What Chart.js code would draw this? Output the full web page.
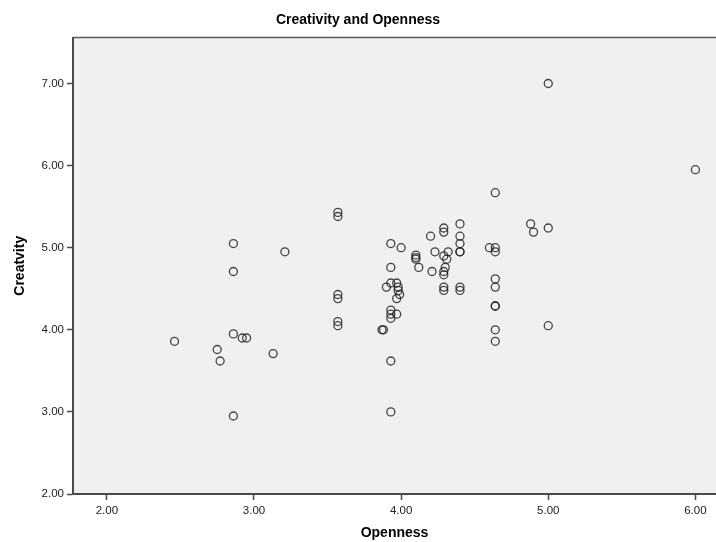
<!DOCTYPE html>
<html>
<head>
    <title>Creativity and Openness</title>
    <script src="https://cdn.jsdelivr.net/npm/chart.js"></script>
    <style>
        body { margin: 0; background: #fff; }
        #chartContainer { width: 716px; height: 542px; }
    </style>
</head>
<body>

<div id="chartContainer">
    <canvas id="myChart"></canvas>
</div>

<script>
// Openness (x) and Creativity (y), one entry per respondent
const openness = [
    2.46, 2.75, 2.77, 2.86, 2.86, 2.86, 2.86, 2.92, 2.95, 3.13,
    3.21, 3.57, 3.57, 3.57, 3.57, 3.57, 3.57, 3.87, 3.88, 3.90,
    3.93, 3.93, 3.93, 3.93, 3.93, 3.93, 3.93, 3.93, 3.97, 3.98,
    3.98, 3.99, 3.97, 3.97, 4.00, 4.10, 4.10, 4.10, 4.12, 4.20,
    4.21, 4.23, 4.29, 4.29, 4.29, 4.31, 4.32, 4.30, 4.29, 4.29,
    4.29, 4.29, 4.40, 4.40, 4.40, 4.40, 4.40, 4.40, 4.40, 4.60,
    4.64, 4.64, 4.64, 4.64, 4.64, 4.64, 4.64, 4.64, 4.64, 4.88,
    4.90, 5.00, 5.00, 5.00, 6.00
];
const creativity = [
    3.86, 3.76, 3.62, 5.05, 4.71, 3.95, 2.95, 3.90, 3.90, 3.71,
    4.95, 5.43, 5.38, 4.43, 4.38, 4.10, 4.05, 4.00, 4.00, 4.52,
    5.05, 4.76, 4.57, 4.24, 4.19, 4.14, 3.62, 3.00, 4.57, 4.52,
    4.48, 4.43, 4.38, 4.19, 5.00, 4.91, 4.88, 4.86, 4.76, 5.14,
    4.71, 4.95, 5.24, 5.19, 4.90, 4.86, 4.95, 4.76, 4.71, 4.67,
    4.52, 4.48, 5.29, 5.14, 5.05, 4.95, 4.95, 4.52, 4.48, 5.00,
    5.67, 5.00, 4.95, 4.62, 4.52, 4.29, 4.29, 4.00, 3.86, 5.29,
    5.19, 5.24, 7.00, 4.05, 5.95
];
const xTicks = [2, 3, 4, 5, 6];
const yTicks = [2, 3, 4, 5, 6, 7];

const points = openness.map((x, i) => ({ x: x, y: creativity[i] }));

const fontFamily = "'Liberation Sans', Arial, sans-serif";
const axisColor = '#4a4a4a';

// grey plot background and the thin frame line on top
const plotBackground = {
    id: 'plotBackground',
    beforeDraw(chart) {
        const a = chart.chartArea;
        const ctx = chart.ctx;
        ctx.save();
        ctx.fillStyle = '#f0f0f0';
        ctx.fillRect(a.left, a.top, a.right - a.left, a.bottom - a.top);
        ctx.strokeStyle = '#5a5a5a';
        ctx.lineWidth = 1.5;
        ctx.beginPath();
        ctx.moveTo(a.left, a.top);
        ctx.lineTo(a.right, a.top);
        ctx.stroke();
        ctx.restore();
    }
};

const config = {
    type: 'scatter',
    data: {
        datasets: [{
            label: 'Creativity',
            data: points,
            pointRadius: 4,
            pointHoverRadius: 4,
            pointBorderWidth: 1.3,
            borderColor: 'rgba(35, 35, 35, 0.85)',
            backgroundColor: 'rgba(0, 0, 0, 0)'
        }]
    },
    options: {
        responsive: true,
        maintainAspectRatio: false,
        animation: false,
        layout: { padding: 0, autoPadding: false },
        plugins: {
            legend: { display: false },
            tooltip: { enabled: false },
            title: {
                display: true,
                text: 'Creativity and Openness',
                color: '#000',
                font: { family: fontFamily, size: 14, weight: 'bold' },
                padding: { top: 12, bottom: 8.7 }
            }
        },
        scales: {
            x: {
                type: 'linear',
                min: 1.77,
                max: 6.14,
                afterBuildTicks: s => { s.ticks = xTicks.map(v => ({ value: v })); },
                afterFit: s => { s.height = 48; },
                grid: {
                    drawOnChartArea: false,
                    drawTicks: true,
                    tickLength: 6,
                    tickColor: axisColor,
                    tickWidth: 1.5
                },
                border: { display: true, color: axisColor, width: 2 },
                ticks: {
                    color: '#222',
                    font: { family: fontFamily, size: 11.5 },
                    padding: 4,
                    maxRotation: 0,
                    autoSkip: false,
                    callback: v => Number(v).toFixed(2)
                },
                title: {
                    display: true,
                    text: 'Openness',
                    color: '#000',
                    font: { family: fontFamily, size: 14, weight: 'bold' },
                    padding: { top: 0, bottom: 0 }
                }
            },
            y: {
                type: 'linear',
                min: 2,
                max: 7.56,
                afterBuildTicks: s => { s.ticks = yTicks.map(v => ({ value: v })); },
                afterFit: s => { s.width = 73; },
                grid: {
                    drawOnChartArea: false,
                    drawTicks: true,
                    tickLength: 6,
                    tickColor: axisColor,
                    tickWidth: 1.5
                },
                border: { display: true, color: axisColor, width: 2 },
                ticks: {
                    color: '#222',
                    font: { family: fontFamily, size: 11.5 },
                    padding: 3,
                    autoSkip: false,
                    callback: v => Number(v).toFixed(2)
                },
                title: {
                    display: true,
                    text: 'Creatvity',
                    color: '#000',
                    font: { family: fontFamily, size: 14, weight: 'bold' },
                    padding: { top: 12, bottom: 0 }
                }
            }
        }
    },
    plugins: [plotBackground]
};

const myChart = new Chart(document.getElementById('myChart'), config);
</script>

</body>
</html>
